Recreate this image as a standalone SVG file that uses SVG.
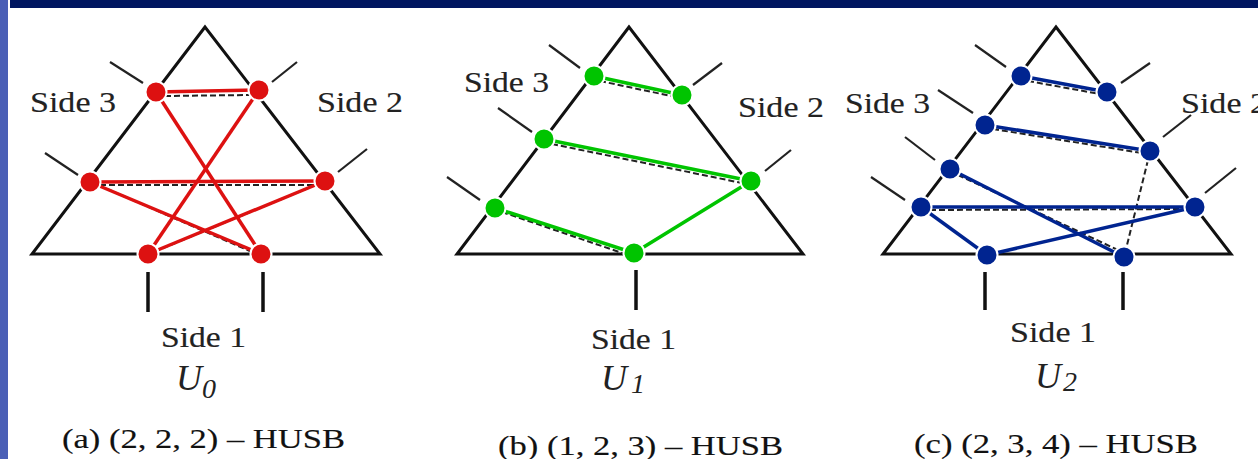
<svg xmlns="http://www.w3.org/2000/svg" width="1258" height="459" viewBox="0 0 1258 459">
<style>
.tri{fill:none;stroke:#111;stroke-width:3;stroke-linejoin:miter}
.tick{stroke:#222;stroke-width:2.2}
.btick{stroke:#111;stroke-width:3.5}
.dash{stroke:#222;stroke-width:2;stroke-dasharray:6 3;fill:none}
.t{font-family:"Liberation Serif","Times New Roman",serif;fill:#222;font-size:30px;stroke:#222;stroke-width:0.15}
.u{font-family:"Liberation Serif","Times New Roman",serif;font-style:italic;fill:#222;font-size:36px}
.cap{font-family:"Liberation Serif","Times New Roman",serif;fill:#111;font-size:28px;stroke:#111;stroke-width:0.15}
.r{stroke:#dd1111;stroke-width:3.5}
.g{stroke:#00c400;stroke-width:3.5}
.b{stroke:#002490;stroke-width:3.5}
.nr{fill:#dd1111;stroke:#fff;stroke-width:2}
.ng{fill:#00c400;stroke:#fff;stroke-width:2}
.nb{fill:#002490;stroke:#fff;stroke-width:2}
</style>
<rect x="0" y="0" width="1258" height="459" fill="#fff"/>
<rect x="10" y="0" width="1248" height="8" fill="#001660"/>
<rect x="0" y="0" width="8" height="459" fill="#4a5fb6"/>

<!-- Panel a -->
<g id="panel-a">
<polygon class="tri" points="205,27 32,254 380,254"/>
<line class="tick" x1="110" y1="62" x2="143" y2="83"/>
<line class="tick" x1="45" y1="153" x2="78" y2="175"/>
<line class="tick" x1="297" y1="62" x2="272" y2="82"/>
<line class="tick" x1="367" y1="149" x2="338" y2="172"/>
<line class="btick" x1="148" y1="272" x2="148" y2="312"/>
<line class="btick" x1="263" y1="272" x2="263" y2="312"/>
<line class="dash" x1="165" y1="96" x2="250" y2="95"/>
<line class="dash" x1="100" y1="185" x2="315" y2="185"/>
<line class="dash" x1="98" y1="185" x2="252" y2="252"/>
<line class="dash" x1="318" y1="184" x2="156" y2="251"/>
<text class="t" x="30" y="112" textLength="86" lengthAdjust="spacingAndGlyphs">Side 3</text>
<text class="t" x="317" y="112" textLength="86" lengthAdjust="spacingAndGlyphs">Side 2</text>
<text class="t" x="161" y="347" textLength="85" lengthAdjust="spacingAndGlyphs">Side 1</text>
<text class="u" x="176" y="390">U<tspan font-size="28" dy="8">0</tspan></text>
<text class="cap" x="62" y="448" textLength="283" lengthAdjust="spacingAndGlyphs">(a) (2, 2, 2) – HUSB</text>
</g>

<!-- Panel b -->
<g id="panel-b">
<polygon class="tri" points="629,27 457,254 803,254"/>
<line class="tick" x1="549" y1="45" x2="580" y2="68"/>
<line class="tick" x1="498" y1="108" x2="532" y2="132"/>
<line class="tick" x1="447" y1="177" x2="480" y2="200"/>
<line class="tick" x1="722" y1="63" x2="693" y2="85"/>
<line class="tick" x1="791" y1="150" x2="765" y2="171"/>
<line class="btick" x1="636" y1="270" x2="636" y2="310"/>
<line class="dash" x1="600" y1="81" x2="676" y2="97"/>
<line class="dash" x1="552" y1="144" x2="742" y2="183"/>
<line class="dash" x1="502" y1="212" x2="628" y2="255"/>
<text class="t" x="464" y="92" textLength="85" lengthAdjust="spacingAndGlyphs">Side 3</text>
<text class="t" x="738" y="117" textLength="86" lengthAdjust="spacingAndGlyphs">Side 2</text>
<text class="t" x="591" y="349" textLength="85" lengthAdjust="spacingAndGlyphs">Side 1</text>
<text class="u" x="601" y="390">U<tspan font-size="28" dx="4" dy="3">1</tspan></text>
<text class="cap" x="498" y="455" textLength="285" lengthAdjust="spacingAndGlyphs">(b) (1, 2, 3) – HUSB</text>
</g>

<!-- Panel c -->
<g id="panel-c">
<polygon class="tri" points="1056,27 883,254 1231,254"/>
<line class="tick" x1="975" y1="45" x2="1006" y2="67"/>
<line class="tick" x1="938" y1="90" x2="973" y2="113"/>
<line class="tick" x1="905" y1="137" x2="935" y2="160"/>
<line class="tick" x1="871" y1="177" x2="905" y2="200"/>
<line class="tick" x1="1150" y1="63" x2="1121" y2="83"/>
<line class="tick" x1="1191" y1="115" x2="1163" y2="137"/>
<line class="tick" x1="1236" y1="168" x2="1205" y2="193"/>
<line class="btick" x1="985" y1="272" x2="985" y2="310"/>
<line class="btick" x1="1123" y1="272" x2="1123" y2="310"/>
<line class="dash" x1="1028" y1="81" x2="1100" y2="94"/>
<line class="dash" x1="993" y1="129" x2="1142" y2="153"/>
<line class="dash" x1="958" y1="175" x2="1118" y2="250"/>
<line class="dash" x1="930" y1="210" x2="1188" y2="209"/>
<line class="dash" x1="1148" y1="160" x2="1127" y2="245"/>
<text class="t" x="845" y="113" textLength="85" lengthAdjust="spacingAndGlyphs">Side 3</text>
<text class="t" x="1181" y="113" textLength="86" lengthAdjust="spacingAndGlyphs">Side 2</text>
<text class="t" x="1010" y="342" textLength="86" lengthAdjust="spacingAndGlyphs">Side 1</text>
<text class="u" x="1035" y="388">U<tspan font-size="28" dx="2" dy="3">2</tspan></text>
<text class="cap" x="914" y="453" textLength="284" lengthAdjust="spacingAndGlyphs">(c) (2, 3, 4) – HUSB</text>
</g>

<g id="connectors">
<line class="r" x1="156" y1="92" x2="259" y2="90"/>
<line class="r" x1="156" y1="92" x2="261" y2="254"/>
<line class="r" x1="259" y1="90" x2="148" y2="254"/>
<line class="r" x1="90" y1="182" x2="325" y2="181"/>
<line class="r" x1="90" y1="182" x2="261" y2="254"/>
<line class="r" x1="325" y1="181" x2="148" y2="254"/>
<line class="g" x1="594" y1="76" x2="682" y2="95"/>
<line class="g" x1="544" y1="139" x2="751" y2="181"/>
<line class="g" x1="495" y1="208" x2="634" y2="253"/>
<line class="g" x1="634" y1="253" x2="751" y2="181"/>
<line class="b" x1="1021" y1="76" x2="1107" y2="92"/>
<line class="b" x1="985" y1="125" x2="1150" y2="151"/>
<line class="b" x1="950" y1="169" x2="1124" y2="257"/>
<line class="b" x1="921" y1="207" x2="1195" y2="207"/>
<line class="b" x1="921" y1="207" x2="987" y2="255"/>
<line class="b" x1="987" y1="255" x2="1195" y2="207"/>
</g>

<g id="nodes-a">
<circle class="nr" cx="156" cy="92" r="10.5"/>
<circle class="nr" cx="259" cy="90" r="10.5"/>
<circle class="nr" cx="90" cy="182" r="10.5"/>
<circle class="nr" cx="325" cy="181" r="10.5"/>
<circle class="nr" cx="148" cy="254" r="10.5"/>
<circle class="nr" cx="261" cy="254" r="10.5"/>
</g>
<g id="nodes-b">
<circle class="ng" cx="594" cy="76" r="10.5"/>
<circle class="ng" cx="682" cy="95" r="10.5"/>
<circle class="ng" cx="544" cy="139" r="10.5"/>
<circle class="ng" cx="751" cy="181" r="10.5"/>
<circle class="ng" cx="495" cy="208" r="10.5"/>
<circle class="ng" cx="634" cy="253" r="10.5"/>
</g>
<g id="nodes-c">
<circle class="nb" cx="1021" cy="76" r="10.5"/>
<circle class="nb" cx="1107" cy="92" r="10.5"/>
<circle class="nb" cx="985" cy="125" r="10.5"/>
<circle class="nb" cx="1150" cy="151" r="10.5"/>
<circle class="nb" cx="950" cy="169" r="10.5"/>
<circle class="nb" cx="921" cy="207" r="10.5"/>
<circle class="nb" cx="1195" cy="207" r="10.5"/>
<circle class="nb" cx="987" cy="255" r="10.5"/>
<circle class="nb" cx="1124" cy="257" r="10.5"/>
</g>
</svg>
